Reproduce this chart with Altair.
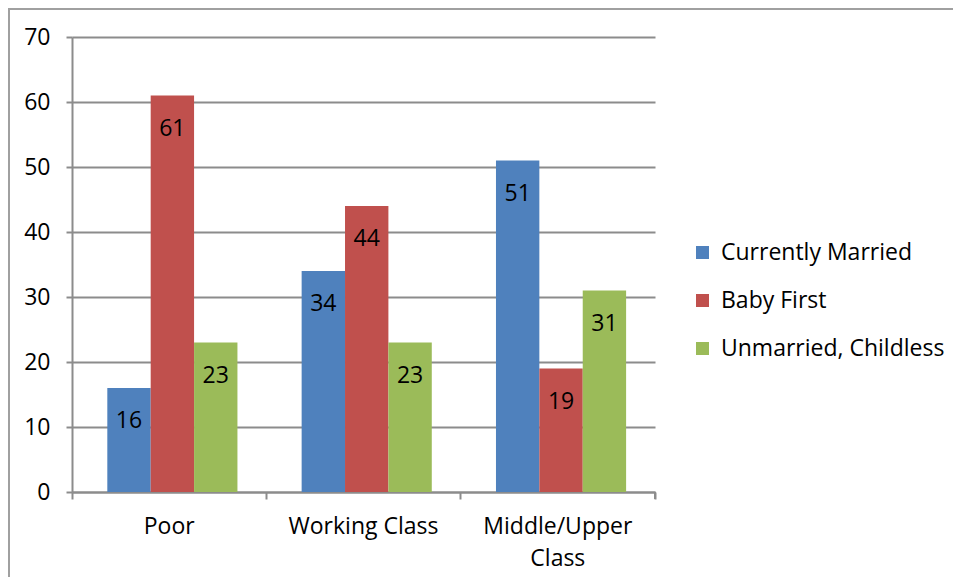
import altair as alt
import pandas as pd

categories = ["Poor", "Working Class", "Middle/Upper Class"]
series = ["Currently Married", "Baby First", "Unmarried, Childless"]
currently_married = [16, 34, 51]
baby_first = [61, 44, 19]
unmarried_childless = [23, 23, 31]
colors = ["#4F81BD", "#C0504D", "#9BBB59"]
y_ticks = [0, 10, 20, 30, 40, 50, 60, 70]

rows = []
for s, vals in zip(series, [currently_married, baby_first, unmarried_childless]):
    for c, v in zip(categories, vals):
        rows.append({"category": c, "series": s, "value": v})
df = pd.DataFrame(rows)

W, H = 583, 455
FONT = "Open Sans"
FS = 23
GRID = "#8c8c8c"

x_enc = alt.X(
    "category:N",
    sort=categories,
    scale=alt.Scale(paddingInner=0, paddingOuter=0),
    axis=alt.Axis(
        title=None, labelAngle=0, bandPosition=1, tickExtra=True,
        tickSize=7, tickColor=GRID, tickWidth=2,
        domainColor=GRID, domainWidth=2,
        labelFont=FONT, labelFontSize=FS, labelColor="black",
        labelPadding=16, labelLineHeight=32,
        labelExpr="datum.label == 'Middle/Upper Class' ? ['Middle/Upper', 'Class'] : datum.label",
        grid=False,
    ),
)
xoff_enc = alt.XOffset("series:N", sort=series,
                       scale=alt.Scale(paddingInner=0, paddingOuter=0.74, align=0.55))
y_enc = alt.Y(
    "value:Q",
    scale=alt.Scale(domain=[0, 70], nice=False),
    axis=alt.Axis(
        title=None, values=y_ticks, grid=True, gridColor=GRID, gridWidth=2,
        tickSize=6, tickColor=GRID, tickWidth=2,
        domainColor=GRID, domainWidth=2,
        labelFont=FONT, labelFontSize=FS, labelColor="black", labelPadding=16,
    ),
)

bars = alt.Chart(df).mark_bar().encode(
    x=x_enc,
    xOffset=xoff_enc,
    y=y_enc,
    color=alt.Color(
        "series:N", sort=series,
        scale=alt.Scale(domain=series, range=colors),
        legend=alt.Legend(
            title=None, orient="none", legendX=619, legendY=204,
            symbolType="square", symbolSize=169, symbolStrokeWidth=0,
            labelFont=FONT, labelFontSize=FS, labelColor="black",
            labelOffset=7, labelLimit=400, rowPadding=24, padding=0,
        ),
    ),
)

labels = alt.Chart(df).mark_text(
    baseline="middle", dy=33, font=FONT, fontSize=FS, color="black"
).encode(
    x=alt.X("category:N", sort=categories),
    xOffset=alt.XOffset("series:N", sort=series),
    y=alt.Y("value:Q"),
    text=alt.Text("value:Q"),
)

end_tick = alt.Chart(alt.Data(values=[{}])).mark_rule(
    color=GRID, strokeWidth=2
).encode(x=alt.value(W), y=alt.value(H), y2=alt.value(H + 7))

border = alt.Chart(alt.Data(values=[{}])).mark_rect(
    fill=None, stroke="#a0a0a0", strokeWidth=2
).encode(
    x=alt.value(-63), x2=alt.value(W + 400),
    y=alt.value(-28), y2=alt.value(H + 200),
)

chart = alt.layer(border, bars, labels, end_tick).properties(
    width=W, height=H,
    autosize=alt.AutoSizeParams(type="none"),
    padding={"left": 64, "top": 29, "right": 298, "bottom": 85},
    background="white",
).configure_view(stroke=None)

chart.save("out.html", embed_options={"renderer": "svg", "actions": False})
